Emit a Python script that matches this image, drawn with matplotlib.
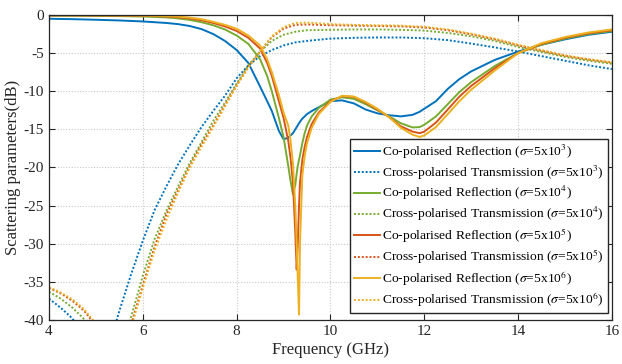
import matplotlib
matplotlib.use("Agg")
import matplotlib.pyplot as plt

# ---------------- data ----------------
freq_refl = [4.0, 4.5, 5.0, 5.5, 6.0, 6.5, 6.75, 7.0, 7.25, 7.5, 7.75, 8.0, 8.25, 8.5,
             8.65, 8.75, 8.9, 9.0, 9.1, 9.15, 9.2, 9.25, 9.28, 9.3, 9.33, 9.35, 9.4,
             9.45, 9.5, 9.6, 9.75, 10.0, 10.25, 10.5, 10.75, 11.0, 11.25, 11.5, 11.75,
             11.9, 12.0, 12.25, 12.5, 12.75, 13.0, 13.5, 14.0, 14.5, 15.0, 15.5, 16.0]

refl_5e3 = [-0.5, -0.55, -0.63, -0.72, -0.85, -1.05, -1.2, -1.45, -1.85, -2.5, -3.4, -4.6,
            -6.3, -9.4, -11.3, -12.6, -15.2, -16.3, -16.1, -15.8, -15.5, -15.0, -14.7,
            -14.5, -14.2, -14.0, -13.6, -13.3, -13.0, -12.6, -12.1, -11.3, -11.2, -11.6,
            -12.4, -12.9, -13.15, -13.3, -13.1, -12.7, -12.3, -11.3, -9.7, -8.4, -7.4,
            -5.9, -4.8, -3.9, -3.2, -2.6, -2.2]
refl_5e4 = [-0.1, -0.1, -0.12, -0.15, -0.2, -0.32, -0.45, -0.65, -0.95, -1.35, -1.9, -2.7,
            -3.8, -5.8, -8.0, -10.0, -13.5, -16.0, -19.8, -21.8, -23.5, -22.3, -20.8,
            -19.9, -19.0, -18.4, -16.8, -15.5, -14.5, -13.3, -12.2, -11.1, -10.8, -11.0,
            -11.7, -12.5, -13.3, -14.2, -14.75, -14.7, -14.4, -13.3, -11.7, -10.1, -8.8,
            -6.7, -5.0, -3.9, -3.1, -2.5, -2.1]
refl_5e5 = [-0.05, -0.05, -0.07, -0.08, -0.1, -0.2, -0.3, -0.45, -0.7, -1.05, -1.5, -2.1,
            -3.0, -4.4, -6.3, -8.0, -11.3, -13.5, -16.5, -18.8, -22.0, -28.5, -33.4,
            -30.5, -25.0, -22.0, -19.0, -17.3, -16.0, -14.3, -12.8, -11.3, -10.65, -10.75,
            -11.5, -12.4, -13.4, -14.6, -15.3, -15.5, -15.3, -14.1, -12.4, -10.7, -9.3,
            -7.0, -5.0, -3.8, -3.0, -2.4, -2.0]
refl_5e6 = [-0.02, -0.03, -0.04, -0.05, -0.07, -0.15, -0.22, -0.35, -0.55, -0.9, -1.3, -1.8,
            -2.7, -4.0, -5.8, -7.5, -10.5, -12.8, -14.5, -16.5, -19.5, -25.0, -30.0,
            -34.0, -39.3, -30.0, -21.0, -18.5, -16.8, -14.8, -13.0, -11.4, -10.6, -10.7,
            -11.4, -12.3, -13.4, -14.8, -15.7, -16.0, -15.8, -14.7, -13.0, -11.3, -9.8,
            -7.3, -5.0, -3.7, -2.9, -2.3, -1.9]

freq_trans = [4.0, 4.25, 4.5, 4.75, 5.0, 5.25, 5.5, 5.75, 6.0, 6.25, 6.5, 6.75, 7.0, 7.25,
              7.5, 7.75, 8.0, 8.25, 8.5, 8.75, 9.0, 9.25, 9.5, 10.0, 10.5, 11.0, 11.5,
              12.0, 12.5, 13.0, 13.5, 14.0, 14.5, 15.0, 15.5, 16.0]

trans_5e3 = [-37.2, -38.4, -39.8, -42.5, -48.0, -44.0, -38.8, -34.0, -29.6, -25.6, -22.5,
             -19.6, -17.1, -14.7, -12.6, -10.6, -8.3, -6.6, -5.4, -4.6, -4.0, -3.6, -3.4,
             -3.1, -3.0, -2.95, -2.95, -3.05, -3.3, -3.75, -4.25, -4.8, -5.4, -6.0, -6.6, -7.1]
trans_5e4 = [-36.3, -37.2, -38.4, -39.9, -42.5, -47.0, -45.0, -39.6, -34.2, -29.4, -25.7,
             -22.5, -19.4, -16.7, -13.9, -11.5, -9.0, -6.6, -4.8, -3.4, -2.6, -2.2, -2.0,
             -1.95, -1.9, -1.9, -1.95, -2.05, -2.35, -2.8, -3.4, -4.2, -4.85, -5.5, -6.0, -6.4]
trans_5e5 = [-35.8, -36.5, -37.5, -38.8, -40.8, -45.0, -46.0, -40.6, -35.4, -30.4, -26.2,
             -23.0, -19.8, -17.0, -14.5, -11.8, -9.2, -6.8, -4.8, -2.9, -1.8, -1.3, -1.25,
             -1.35, -1.4, -1.45, -1.5, -1.65, -2.0, -2.55, -3.2, -4.0, -4.7, -5.35, -5.85, -6.25]
trans_5e6 = [-35.7, -36.4, -37.3, -38.6, -40.5, -45.0, -46.0, -41.0, -35.8, -30.9, -26.9,
             -23.3, -20.0, -17.3, -14.7, -12.0, -9.3, -6.9, -4.8, -2.8, -1.6, -1.05, -1.0,
             -1.2, -1.3, -1.35, -1.4, -1.55, -1.9, -2.45, -3.1, -3.9, -4.6, -5.3, -5.8, -6.2]

sigma_exp = ["3", "4", "5", "6"]
series_colors = ["#0072BD", "#77AC30", "#D95319", "#EDB120"]
x_ticks = [4, 6, 8, 10, 12, 14, 16]
y_ticks = [0, -5, -10, -15, -20, -25, -30, -35, -40]

# ---------------- plotting ----------------
plt.rcParams['font.family'] = ['Liberation Serif', 'DejaVu Serif']
plt.rcParams['mathtext.fontset'] = 'stix'

fig = plt.figure(figsize=(6.22, 3.64), dpi=100)
ax = fig.add_axes([0.0788, 0.1209, 0.905, 0.838])

refl = [refl_5e3, refl_5e4, refl_5e5, refl_5e6]
trans = [trans_5e3, trans_5e4, trans_5e5, trans_5e6]
for r, t, c, e in zip(refl, trans, series_colors, sigma_exp):
    ax.plot(freq_refl, r, color=c, lw=1.4, ls='-',
            label=r'Co-polarised Reflection ($\sigma$=5x10$^{%s}$)' % e)
    ax.plot(freq_trans, t, color=c, lw=1.4, ls=(0, (1, 1)),
            label=r'Cross-polarised Transmission ($\sigma$=5x10$^{%s}$)' % e)

ax.set_xlim(4, 16)
ax.set_ylim(-40, 0)
ax.set_xticks(x_ticks)
ax.set_yticks(y_ticks)
ax.set_xticklabels([str(v) for v in x_ticks])
ax.set_yticklabels([str(v) for v in y_ticks])
ax.grid(True, color='#c8c8c8', ls=(0, (1, 1.5)), lw=0.8)
ax.tick_params(direction='in', top=True, right=True, labelsize=11, colors='#262626',
               length=4, width=0.8)
for s in ax.spines.values():
    s.set_color('#262626')
    s.set_linewidth(0.9)

ax.set_xlabel('Frequency (GHz)', fontsize=12, color='#262626', labelpad=3)
ax.set_ylabel('Scattering parameters(dB)', fontsize=12, color='#262626', labelpad=2)

leg = ax.legend(loc='lower right', bbox_to_anchor=(0.993, 0.022), fontsize=9.7,
                frameon=True, fancybox=False, framealpha=1, edgecolor='#262626',
                handlelength=1.9, handletextpad=0.2, borderpad=0.3, labelspacing=0.2,
                borderaxespad=0)
leg.get_frame().set_linewidth(1.0)

fig.savefig('out.png', dpi=100)
